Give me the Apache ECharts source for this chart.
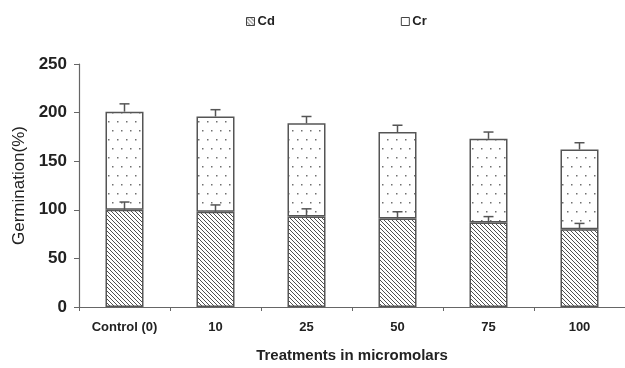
<!DOCTYPE html>
<html>
<head>
<meta charset="utf-8">
<script src="https://cdn.jsdelivr.net/npm/echarts@6/dist/echarts.min.js"></script>
<style>
html,body{margin:0;padding:0;background:#fff;}
#chart{width:625px;height:368px;}
</style>
</head>
<body>
<div id="chart"></div>
<script>
const categories = ['Control (0)', '10', '25', '50', '75', '100'];
const cdValues = [100, 98, 93, 91, 87, 80];
const crValues = [101, 98, 96, 89, 86, 82];
const cdErr = [8, 7, 8, 7, 6, 6];
const crErr = [8, 7, 7, 7, 7, 7];
const yTicks = [0, 50, 100, 150, 200, 250];

function hatchPattern() {
  const s = 4;
  const c = document.createElement('canvas');
  c.width = s; c.height = s;
  const g = c.getContext('2d');
  g.fillStyle = '#ffffff';
  g.fillRect(0, 0, s, s);
  g.strokeStyle = '#505050';
  g.lineWidth = 1;
  g.beginPath();
  g.moveTo(-1, -1); g.lineTo(s + 1, s + 1);
  g.moveTo(-1, s - 1); g.lineTo(1, s + 1);
  g.moveTo(s - 1, -1); g.lineTo(s + 1, 1);
  g.stroke();
  return c;
}
function dotPattern() {
  const c = document.createElement('canvas');
  c.width = 18; c.height = 18;
  const g = c.getContext('2d');
  g.fillStyle = '#ffffff';
  g.fillRect(0, 0, 18, 18);
  g.fillStyle = '#707070';
  [[4, 4], [13, 4], [0, 13], [9, 13]].forEach(p => g.fillRect(p[0], p[1], 1.5, 1.5));
  return c;
}

const totals = cdValues.map((v, i) => v + crValues[i]);
const errData = [];
categories.forEach((c, i) => {
  errData.push([i, cdValues[i], cdValues[i] + cdErr[i]]);
  errData.push([i, totals[i], totals[i] + crErr[i]]);
});

const chart = echarts.init(document.getElementById('chart'));
const hatch = { image: hatchPattern(), repeat: 'repeat' };
const dots = { image: dotPattern(), repeat: 'repeat' };

chart.setOption({
  animation: false,
  backgroundColor: '#fff',
  legend: {
    top: 10,
    left: 241,
    itemGap: 126,
    itemWidth: 8,
    itemHeight: 8,
    icon: 'rect',
    textStyle: { fontFamily: 'Liberation Sans, Arial', fontWeight: 'bold', fontSize: 13, color: '#222', padding: [0, 0, 0, -2] },
    data: [
      { name: 'Cd', itemStyle: { color: hatch, borderColor: '#444', borderWidth: 1 } },
      { name: 'Cr', itemStyle: { color: '#fff', borderColor: '#444', borderWidth: 1 } }
    ]
  },
  grid: { left: 79, top: 64, width: 551, bottom: 57, containLabel: false },
  xAxis: {
    type: 'category',
    data: categories,
    name: 'Treatments in micromolars',
    nameLocation: 'middle',
    nameGap: 41,
    nameTextStyle: { fontFamily: 'Liberation Sans, Arial', fontWeight: 'bold', fontSize: 15, color: '#222' },
    axisLine: { lineStyle: { color: '#666', width: 1.2 } },
    axisTick: { show: true, length: 4, alignWithLabel: false, lineStyle: { color: '#666' } },
    axisLabel: { fontFamily: 'Liberation Sans, Arial', fontWeight: 'bold', fontSize: 13, color: '#222', margin: 14 }
  },
  yAxis: {
    type: 'value',
    min: 0, max: 250, interval: 50,
    name: 'Germination(%)',
    nameLocation: 'middle',
    nameGap: 49,
    nameRotate: 90,
    nameTextStyle: { fontFamily: 'Liberation Sans, Arial', fontSize: 17, color: '#222' },
    splitLine: { show: false },
    axisLine: { show: true, lineStyle: { color: '#666', width: 1.2 } },
    axisTick: { show: true, length: 5, lineStyle: { color: '#666' } },
    axisLabel: {
      fontFamily: 'Liberation Sans, Arial', fontWeight: 'bold', fontSize: 17, color: '#222', margin: 12,
      formatter: v => yTicks.includes(v) ? String(v) : ''
    }
  },
  series: [
    {
      name: 'Cd', type: 'bar', stack: 'g', data: cdValues, barWidth: 38,
      itemStyle: { color: hatch, borderColor: '#555', borderWidth: 1.5 }
    },
    {
      name: 'Cr', type: 'bar', stack: 'g', data: crValues, barWidth: 38,
      itemStyle: { color: dots, borderColor: '#555', borderWidth: 1.5 }
    },
    {
      name: 'err', type: 'custom', data: errData, z: 10,
      renderItem: function (params, api) {
        const x = api.value(0);
        const lo = api.coord([x, api.value(1)]);
        const hi = api.coord([x, api.value(2)]);
        const hw = 5;
        return {
          type: 'group',
          children: [
            { type: 'line', shape: { x1: lo[0], y1: lo[1], x2: hi[0], y2: hi[1] }, style: { stroke: '#555', lineWidth: 1.5 } },
            { type: 'line', shape: { x1: hi[0] - hw, y1: hi[1], x2: hi[0] + hw, y2: hi[1] }, style: { stroke: '#555', lineWidth: 1.5 } }
          ]
        };
      }
    }
  ]
});
</script>
</body>
</html>
